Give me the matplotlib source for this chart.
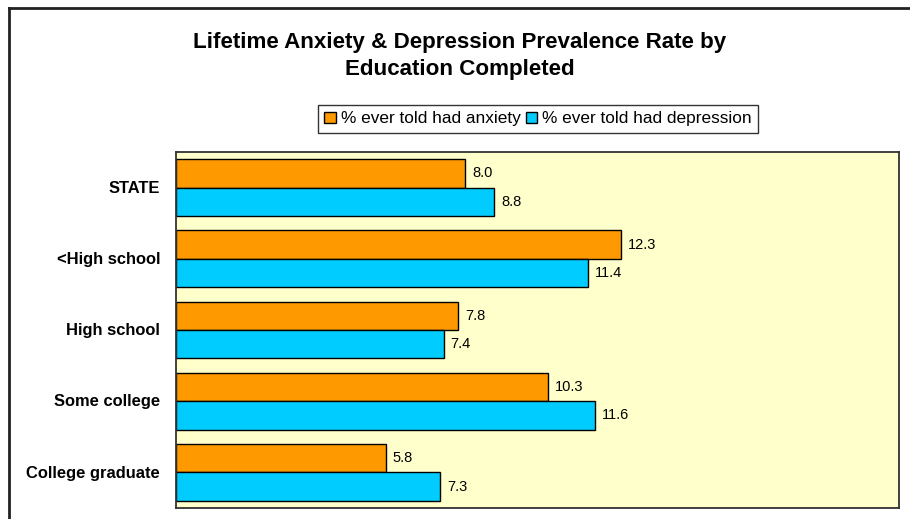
import matplotlib
matplotlib.use("Agg")
import matplotlib.pyplot as plt
from matplotlib.lines import Line2D
from matplotlib.patches import Patch
import numpy as np

categories = ["STATE", "<High school", "High school", "Some college", "College graduate"]
anxiety = [8.0, 12.3, 7.8, 10.3, 5.8]
depression = [8.8, 11.4, 7.4, 11.6, 7.3]
series_labels = ["% ever told had anxiety", "% ever told had depression"]
title = "Lifetime Anxiety & Depression Prevalence Rate by\nEducation Completed"

W, H = 910, 519
fig = plt.figure(figsize=(W / 100, H / 100), dpi=100)
fig.patch.set_facecolor("white")
plt.rcParams["font.family"] = ["Liberation Sans", "DejaVu Sans"]

# outer frame (top and left visible)
fig.add_artist(Line2D([9 / W, 1.0], [1 - 8 / H, 1 - 8 / H], transform=fig.transFigure, color="#222222", lw=2))
fig.add_artist(Line2D([9 / W, 9 / W], [0, 1 - 8 / H], transform=fig.transFigure, color="#222222", lw=2))

left, right, top, bottom = 176, 899, 152, 508
ax = fig.add_axes([left / W, 1 - bottom / H, (right - left) / W, (bottom - top) / H])
ax.set_facecolor("#FFFFCC")

y = np.arange(len(categories))
h = 0.4
orange = "#FF9900"
cyan = "#00CCFF"
b1 = ax.barh(y - h / 2, anxiety, height=h, color=orange, edgecolor="black", linewidth=1)
b2 = ax.barh(y + h / 2, depression, height=h, color=cyan, edgecolor="black", linewidth=1)

for bars, vals in ((b1, anxiety), (b2, depression)):
    for bar, v in zip(bars, vals):
        ax.annotate(f"{v:.1f}", (v, bar.get_y() + bar.get_height() / 2),
                    xytext=(5, 0), textcoords="offset points", va="center", ha="left",
                    fontsize=10.5, color="black")

ax.set_xlim(0, 20)
ax.set_ylim(len(categories) - 0.5, -0.5)
ax.set_xticks([])
ax.set_yticks(y - 0.01)
ax.set_yticklabels(categories, fontsize=11.9, fontweight="bold")
ax.tick_params(axis="y", length=0, pad=11.5)
for s in ax.spines.values():
    s.set_color("#333333")
    s.set_linewidth(1.3)

fig.text(460 / W, 1 - 56 / H, title, ha="center", va="center", fontsize=16.1,
         fontweight="bold", linespacing=1.4)

handles = [Patch(facecolor=orange, edgecolor="black", lw=1),
           Patch(facecolor=cyan, edgecolor="black", lw=1)]
leg = fig.legend(handles, series_labels, loc="center", bbox_to_anchor=(538 / W, 1 - 119 / H),
                 ncol=2, fontsize=12.4, frameon=True, fancybox=False, edgecolor="black",
                 handlelength=0.65, handleheight=0.65, handletextpad=0.3, columnspacing=0.3,
                 borderpad=0.35, borderaxespad=0)
leg.get_frame().set_linewidth(1)

fig.savefig("out.png", dpi=100)
